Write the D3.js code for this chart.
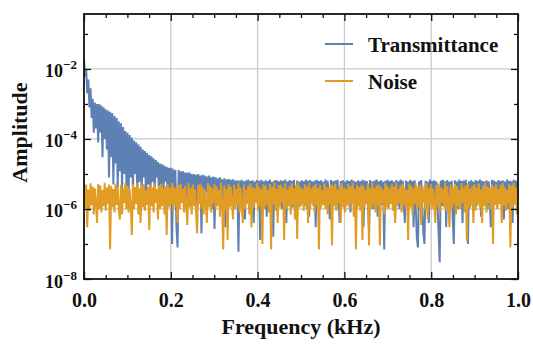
<!DOCTYPE html>
<html>
<head>
<meta charset="utf-8">
<script src="https://cdn.jsdelivr.net/npm/d3@7"></script>
<style>
  body { margin: 0; background: #fff; }
  text { font-family: "Liberation Serif", "Times New Roman", serif; font-weight: bold; fill: #111; }
</style>
</head>
<body>
<div id="chart"></div>
<script>
// amplitude spectra, 400 samples evenly over 0..1 kHz (one row = 0.05 kHz)
var transmittance = [
  2e-2, 6e-3, 1e-2, 2e-3, 5e-3, 8e-4, 2.8e-3, 4e-4, 1.4e-3, 1.5e-4, 1.1e-3, 2e-4, 1e-3, 8e-5, 1e-3, 1.5e-4, 9e-4, 3e-5, 8e-4, 1e-4,
  7e-4, 5e-5, 6.5e-4, 8e-6, 6e-4, 3e-5, 5.5e-4, 5e-6, 4.5e-4, 2e-5, 4e-4, 4e-6, 3.2e-4, 1.2e-5, 2.8e-4, 3e-6, 2.2e-4, 1e-5, 1.7e-4, 4e-6,
  1.5e-4, 2e-6, 1.3e-4, 8e-6, 1.1e-4, 3e-6, 9e-5, 1e-5, 8e-5, 2e-6, 7e-5, 6e-6, 6e-5, 3e-6, 5e-5, 8e-6, 4.5e-5, 2e-6, 4e-5, 5e-6,
  3.5e-5, 2e-6, 3.2e-5, 6e-6, 2.8e-5, 3e-6, 2.5e-5, 8e-6, 2.2e-5, 2e-6, 2e-5, 5e-6, 1.9e-5, 3e-6, 1.7e-5, 6e-6, 1.6e-5, 2e-6, 1.5e-5, 4e-6,
  1.5e-5, 1e-7, 1.4e-5, 2e-6, 1.3e-5, 3e-7, 8e-8, 1.3e-5, 1.5e-6, 1.2e-5, 2.5e-6, 1.2e-5, 1e-6, 1.1e-5, 2e-6, 1.1e-5, 1.2e-6, 1.1e-5, 3e-6, 1e-5,
  1.5e-6, 1e-5, 2.5e-6, 9.5e-6, 1e-6, 1e-5, 2e-6, 9e-6, 2e-7, 9.5e-6, 1.5e-6, 9e-6, 3e-6, 8.5e-6, 1.2e-6, 9e-6, 2e-6, 8e-6, 1e-6, 8.5e-6,
  2.7e-7, 8e-6, 1.8e-6, 7.5e-6, 1.2e-6, 8e-6, 2.5e-6, 7e-6, 1e-6, 7.5e-6, 3e-7, 7e-6, 2e-6, 7.2e-6, 1.4e-6, 6.8e-6, 2.2e-6, 7e-6, 1e-6, 6.5e-6,
  1.5e-6, 6.6e-6, 6e-8, 6.4e-6, 2e-6, 6.8e-6, 1.2e-6, 6.2e-6, 5e-7, 6.5e-6, 1.8e-6, 6.9e-6, 1e-6, 6.3e-6, 2.4e-6, 6.6e-6, 4e-7, 6.1e-6, 1.5e-6, 6.7e-6,
  1.2e-6, 6.4e-6, 1.3e-7, 6.8e-6, 2e-6, 6.2e-6, 1e-6, 6.6e-6, 6e-7, 6.3e-6, 1.7e-6, 6.9e-6, 1.1e-6, 6e-6, 1.6e-7, 6.5e-6, 2.2e-6, 6.7e-6, 1.3e-6, 6.2e-6,
  1.8e-6, 6.6e-6, 1e-6, 6.4e-6, 2.5e-6, 6.9e-6, 4e-7, 6.1e-6, 1.4e-6, 6.7e-6, 2e-6, 6.3e-6, 1.1e-6, 6.8e-6, 1.6e-6, 5e-7, 6.5e-6, 2.2e-6, 6e-6, 1.2e-6,
  6.6e-6, 1.5e-6, 6.2e-6, 2e-6, 6.9e-6, 1e-6, 6.4e-6, 6e-7, 6.7e-6, 1.8e-6, 6.1e-6, 1.2e-6, 6.5e-6, 3e-7, 6.8e-6, 2.4e-6, 6.3e-6, 1e-6, 6.6e-6, 1.6e-6,
  6e-6, 2e-6, 6.9e-6, 1.3e-6, 6.4e-6, 2.2e-6, 5e-7, 6.7e-6, 1.1e-6, 6.2e-6, 1.7e-6, 6.5e-6, 1e-6, 6.8e-6, 2.5e-6, 4e-7, 6.3e-6, 1.4e-6, 6.6e-6, 1.9e-6,
  6.1e-6, 1.2e-6, 6.7e-6, 2e-6, 6.3e-6, 8e-7, 6.9e-6, 1.5e-6, 6.4e-6, 2.3e-6, 6e-6, 1e-6, 6.6e-6, 1.8e-6, 6.2e-6, 1.2e-6, 6.8e-6, 3e-7, 6.5e-6, 2e-6,
  6.3e-6, 1.4e-6, 2.5e-7, 6.7e-6, 2.1e-6, 6.1e-6, 1e-6, 6.5e-6, 1.7e-6, 6.9e-6, 6e-7, 6.2e-6, 2.4e-6, 6.6e-6, 1.3e-6, 6e-6, 7e-8, 6.4e-6, 1.9e-6, 6.8e-6,
  1.1e-6, 6.3e-6, 2.2e-6, 6.6e-6, 1.5e-6, 6e-6, 5e-7, 6.7e-6, 1.8e-6, 6.2e-6, 1e-6, 6.9e-6, 2e-6, 6.4e-6, 1.3e-6, 4e-7, 6.5e-6, 2.3e-6, 6.1e-6, 1.2e-6,
  6.8e-6, 1.6e-6, 6.3e-6, 3e-7, 6.6e-6, 1.1e-6, 1.5e-7, 8e-8, 6.2e-6, 2e-6, 6.7e-6, 1.3e-6, 2e-7, 1e-7, 6.4e-6, 1.8e-6, 6e-6, 4e-7, 6.9e-6, 1.5e-6,
  6.3e-6, 2.1e-6, 6.6e-6, 1e-6, 6.1e-6, 1.6e-6, 2e-7, 3e-8, 6.5e-6, 1.2e-6, 6.8e-6, 2e-6, 6.2e-6, 3e-7, 6.7e-6, 1.4e-6, 6e-6, 2.3e-6, 6.4e-6, 5e-7,
  1e-7, 6.6e-6, 1.7e-6, 6.1e-6, 1e-6, 6.9e-6, 2.2e-6, 6.3e-6, 4e-7, 6.5e-6, 1.3e-6, 6.8e-6, 1.9e-6, 1e-7, 6.2e-6, 1.1e-6, 6.6e-6, 2.4e-6, 6e-6, 1.5e-6,
  6.7e-6, 1.2e-6, 6.3e-6, 2e-6, 6.9e-6, 6e-7, 6.4e-6, 1.6e-6, 6.1e-6, 2.3e-6, 6.6e-6, 1e-6, 6.2e-6, 1.8e-6, 3e-7, 6.8e-6, 1.4e-6, 6.5e-6, 2.1e-6, 6e-6,
  1.1e-6, 6.7e-6, 1.9e-6, 6.3e-6, 1.3e-6, 6.6e-6, 5e-7, 6.1e-6, 2.2e-6, 6.9e-6, 1e-6, 6.4e-6, 1.7e-6, 6.2e-6, 4e-7, 6.8e-6, 1.5e-6, 6.5e-6, 2e-6, 6.3e-6
];
var noise = [
  4.2e-6, 1.1e-6, 5e-6, 3e-7, 3.6e-6, 9e-7, 5.4e-6, 1.3e-6, 4.4e-6, 7e-7, 3.9e-6, 1.5e-6, 4e-7, 5.2e-6, 1e-6, 4.7e-6, 8e-7, 3.5e-6, 1.2e-6, 5.6e-6,
  9e-7, 4.1e-6, 1.4e-6, 5e-6, 7e-8, 4.5e-6, 1.1e-6, 3.7e-6, 8e-7, 5.3e-6, 1.3e-6, 4.3e-6, 1e-6, 5e-7, 4.9e-6, 7e-7, 3.8e-6, 1.5e-6, 5.5e-6, 1e-6,
  4.6e-6, 8e-7, 3.6e-6, 1.2e-6, 1.8e-7, 5.1e-6, 1e-6, 4.2e-6, 1.4e-6, 5.6e-6, 7e-7, 3.9e-6, 4e-7, 4.8e-6, 1.1e-6, 5.2e-6, 9e-7, 3.5e-6, 1.3e-6, 4.4e-6,
  2.5e-7, 5e-6, 1.2e-6, 4.1e-6, 8e-7, 5.4e-6, 1.5e-6, 3.7e-6, 5e-7, 4.7e-6, 1e-6, 5.3e-6, 1.2e-6, 3.9e-6, 7e-7, 4.5e-6, 1.8e-7, 5.1e-6, 1.1e-6, 4e-6,
  1.4e-6, 5.5e-6, 9e-7, 4.3e-6, 1.2e-6, 3.6e-6, 4e-7, 4.9e-6, 1e-6, 5.2e-6, 1.5e-6, 3.8e-6, 8e-7, 4.6e-6, 1.3e-6, 3.5e-7, 5.4e-6, 1.1e-6, 4e-6, 7e-7,
  5e-6, 1.2e-6, 3.7e-6, 9e-7, 2e-7, 4.8e-6, 1.4e-6, 5.3e-6, 1e-6, 4.2e-6, 7e-7, 3.6e-6, 1.3e-6, 4e-7, 5.5e-6, 1.1e-6, 4.5e-6, 8e-7, 3.9e-6, 1.5e-6,
  5.1e-6, 1e-6, 4.4e-6, 1.2e-6, 3.5e-6, 6e-7, 5.6e-6, 1.4e-6, 7e-8, 4.7e-6, 9e-7, 3.8e-6, 1.3e-7, 5.2e-6, 1.1e-6, 4.3e-6, 1.5e-6, 5e-7, 4.9e-6, 1e-6,
  3.7e-6, 1.3e-6, 5.4e-6, 8e-7, 4.1e-6, 1.2e-6, 4e-7, 5e-6, 1e-6, 3.6e-6, 1.4e-6, 4.6e-6, 7e-7, 5.3e-6, 3e-7, 4.2e-6, 1.1e-6, 3.9e-6, 1.5e-6, 5.5e-6,
  9e-7, 4.4e-6, 1.2e-6, 3.8e-6, 1e-7, 5.1e-6, 1e-6, 4.7e-6, 1.3e-6, 3.5e-6, 8e-7, 5.2e-6, 7e-8, 4.3e-6, 1.4e-6, 5.6e-6, 9e-7, 3.7e-6, 4e-7, 4.8e-6,
  1.1e-6, 5e-6, 1.5e-6, 4e-6, 1.3e-7, 5.4e-6, 1e-6, 3.6e-6, 1.2e-6, 4.5e-6, 7e-7, 5.3e-6, 1.3e-6, 3.9e-6, 5e-7, 4.9e-6, 1.4e-7, 5.5e-6, 1.1e-6, 4.2e-6,
  1.4e-6, 3.7e-6, 9e-7, 5.1e-6, 1.2e-6, 4.4e-6, 4e-7, 5.6e-6, 1e-6, 3.8e-6, 1.5e-6, 4.6e-6, 8e-7, 5.2e-6, 1.3e-6, 4e-6, 7e-8, 4.8e-6, 1.1e-6, 3.5e-6,
  1.3e-6, 5.4e-6, 1e-6, 4.3e-6, 7e-7, 3.9e-6, 1.4e-6, 5e-6, 9e-8, 4.7e-6, 1.2e-6, 5.3e-6, 9e-7, 3.6e-6, 1.5e-6, 4.5e-6, 4e-7, 5.5e-6, 1.1e-6, 4.1e-6,
  8e-7, 3.7e-6, 1.3e-6, 5.2e-6, 1e-6, 4.4e-6, 1.5e-6, 5.6e-6, 6e-7, 3.8e-6, 7e-8, 4.9e-6, 1.2e-6, 4.2e-6, 9e-7, 5e-6, 1.3e-7, 4.6e-6, 1.1e-6, 3.5e-6,
  1.4e-6, 5.3e-6, 9e-8, 4e-6, 1e-6, 5.5e-6, 1.3e-6, 3.9e-6, 8e-7, 4.7e-6, 1.2e-6, 5.1e-6, 9e-8, 4.3e-6, 1.5e-6, 3.6e-6, 7e-7, 5.4e-6, 1.1e-6, 4.5e-6,
  1e-6, 3.8e-6, 1.4e-6, 5e-6, 9e-7, 4.4e-6, 4e-7, 5.6e-6, 1.2e-6, 3.7e-6, 1.5e-6, 4.8e-6, 8e-7, 5.2e-6, 1.3e-6, 4.1e-6, 1e-6, 3.5e-6, 1.3e-7, 5.3e-6,
  1.1e-6, 4.6e-6, 7e-7, 3.9e-6, 1.4e-6, 5.4e-6, 1e-6, 4.3e-6, 1.2e-6, 5e-6, 3.5e-7, 3.6e-6, 1.5e-6, 4.7e-6, 9e-7, 5.5e-6, 5e-7, 4e-6, 1.3e-6, 5.1e-6,
  1e-6, 3.8e-6, 1.4e-6, 4e-7, 4.9e-6, 1.2e-6, 5.3e-6, 8e-7, 4.2e-6, 1.5e-6, 3.7e-6, 1.1e-6, 5.6e-6, 9e-7, 4.4e-6, 1.3e-6, 3e-7, 5e-6, 1e-6, 3.9e-6,
  1.4e-6, 5.2e-6, 7e-7, 4.6e-6, 1.2e-6, 3.5e-6, 1e-6, 5.4e-6, 1.5e-6, 4.1e-6, 8e-7, 4.8e-6, 1.2e-7, 5.5e-6, 1.1e-6, 3.8e-6, 1.3e-6, 4.5e-6, 4e-7, 5.1e-6,
  9e-7, 4e-6, 1.4e-6, 5.3e-6, 1.1e-6, 3.6e-6, 4e-7, 4.7e-6, 1.2e-6, 5.6e-6, 8e-7, 4.3e-6, 1.5e-6, 3.9e-6, 1e-6, 5e-6, 1e-7, 4.4e-6, 1.3e-6, 5.2e-6,
  1e-6, 3.7e-6, 1.4e-6, 4.9e-6, 4e-7, 5.4e-6, 1.2e-6, 4.1e-6, 9e-7, 3.5e-6, 1.5e-6, 5.1e-6, 8e-8, 4.6e-6, 1.1e-6, 5.5e-6, 1.3e-6, 4e-6, 7e-7, 4.8e-6
];

var xTicks = [0, 0.2, 0.4, 0.6, 0.8, 1.0];
var xMinor = [0.05, 0.1, 0.15, 0.25, 0.3, 0.35, 0.45, 0.5, 0.55, 0.65, 0.7, 0.75, 0.85, 0.9, 0.95];
var yTicks = [1e-8, 1e-6, 1e-4, 1e-2];
var yMinor = [1e-7, 1e-5, 1e-3, 1e-1];
var seriesNames = ["Transmittance", "Noise"];
var colors = ["#5e81b5", "#e19c24"];

// set the dimensions and margins of the graph
var margin = { top: 14, right: 15, bottom: 66, left: 84 };
var width = 533 - margin.left - margin.right;
var height = 345 - margin.top - margin.bottom;

var svg = d3.select("#chart")
  .append("svg")
  .attr("width", 533)
  .attr("height", 345)
  .append("g")
  .attr("transform", "translate(" + margin.left + "," + margin.top + ")");

var x = d3.scaleLinear().domain([0, 1]).range([0, width]);
var y = d3.scaleLog().domain([1e-8, Math.pow(10, -0.43)]).range([height, 0]);

// grid
svg.append("g")
  .selectAll("line")
  .data(xTicks.slice(1, -1))
  .join("line")
  .attr("x1", function (d) { return x(d); })
  .attr("x2", function (d) { return x(d); })
  .attr("y1", 0)
  .attr("y2", height)
  .attr("stroke", "#c9c9c9")
  .attr("stroke-width", 1.3);
svg.append("g")
  .selectAll("line")
  .data(yTicks.slice(1))
  .join("line")
  .attr("x1", 0)
  .attr("x2", width)
  .attr("y1", function (d) { return y(d); })
  .attr("y2", function (d) { return y(d); })
  .attr("stroke", "#c9c9c9")
  .attr("stroke-width", 1.3);

svg.append("clipPath").attr("id", "clip")
  .append("rect").attr("width", width).attr("height", height);

// samples are evenly spaced from 0 to 1 kHz
[transmittance, noise].forEach(function (s, k) {
  var line = d3.line()
    .x(function (d, i) { return x(i / (s.length - 1)); })
    .y(function (d) { return y(d); });
  svg.append("path")
    .datum(s)
    .attr("clip-path", "url(#clip)")
    .attr("fill", "none")
    .attr("stroke", colors[k])
    .attr("stroke-width", 2)
    .attr("stroke-linejoin", "bevel")
    .attr("d", line);
});

// frame
svg.append("rect")
  .attr("width", width)
  .attr("height", height)
  .attr("fill", "none")
  .attr("stroke", "#111")
  .attr("stroke-width", 1.8);

// axes, ticks pointing inward
function styleAxis(g) {
  g.select(".domain").remove();
  g.selectAll(".tick line").attr("stroke", "#111").attr("stroke-width", 1.3);
}
var xAxis = svg.append("g")
  .attr("transform", "translate(0," + height + ")")
  .call(d3.axisBottom(x).tickValues(xTicks).tickFormat(d3.format(".1f")).tickSize(-7).tickPadding(14));
xAxis.call(styleAxis);
xAxis.selectAll("text").attr("font-size", "20px");
svg.append("g")
  .attr("transform", "translate(0," + height + ")")
  .call(d3.axisBottom(x).tickValues(xMinor).tickFormat("").tickSize(-4))
  .call(styleAxis);
svg.append("g")
  .call(d3.axisTop(x).tickValues(xTicks).tickFormat("").tickSize(-7))
  .call(styleAxis);
svg.append("g")
  .call(d3.axisTop(x).tickValues(xMinor).tickFormat("").tickSize(-4))
  .call(styleAxis);

var yAxis = svg.append("g")
  .call(d3.axisLeft(y).tickValues(yTicks).tickSize(-7).tickFormat(""));
yAxis.call(styleAxis);
yAxis.selectAll(".tick").append("text")
  .attr("x", -7)
  .attr("dy", 8)
  .attr("text-anchor", "end")
  .each(function (d) {
    var t = d3.select(this);
    t.append("tspan").attr("font-size", "18px").text("10");
    t.append("tspan").attr("font-size", "13px").attr("dy", -8)
      .text("\u2212" + Math.abs(Math.round(Math.log10(d))));
  });
svg.append("g")
  .call(d3.axisLeft(y).tickValues(yMinor).tickFormat("").tickSize(-4))
  .call(styleAxis);
svg.append("g")
  .attr("transform", "translate(" + width + ",0)")
  .call(d3.axisRight(y).tickValues(yTicks).tickFormat("").tickSize(-7))
  .call(styleAxis);
svg.append("g")
  .attr("transform", "translate(" + width + ",0)")
  .call(d3.axisRight(y).tickValues(yMinor).tickFormat("").tickSize(-4))
  .call(styleAxis);

// axis titles
svg.append("text")
  .attr("x", width / 2)
  .attr("y", height + 55)
  .attr("text-anchor", "middle")
  .attr("font-size", "22px")
  .text("Frequency (kHz)");
svg.append("text")
  .attr("transform", "translate(" + (27 - margin.left) + "," + (height / 2 - 14) + ") rotate(-90)")
  .attr("text-anchor", "middle")
  .attr("font-size", "22px")
  .text("Amplitude");

// legend
var legend = svg.append("g").attr("transform", "translate(241,30)");
seriesNames.forEach(function (name, k) {
  var g = legend.append("g").attr("transform", "translate(0," + (k * 37) + ")");
  g.append("line").attr("x1", 0).attr("x2", 28)
    .attr("stroke", colors[k]).attr("stroke-width", 2);
  g.append("text").attr("x", 43).attr("y", 8)
    .attr("font-size", "21px").text(name);
});
</script>
</body>
</html>
